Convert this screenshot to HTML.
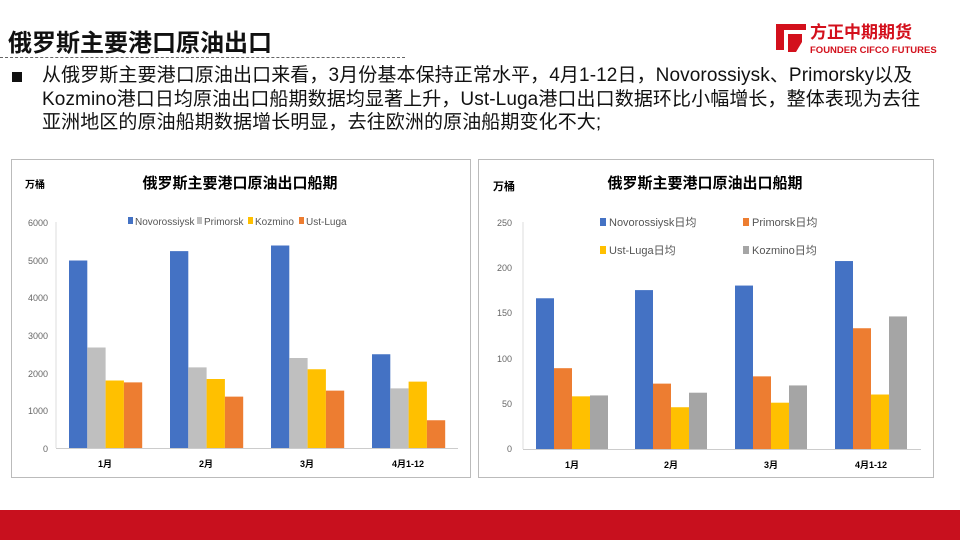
<!DOCTYPE html>
<html><head><meta charset="utf-8"><style>
body{margin:0;width:960px;height:540px;background:#fff;overflow:hidden;position:relative;font-family:"Liberation Sans","Noto Sans CJK SC",sans-serif}
.t{position:absolute;white-space:nowrap}
</style></head><body>
<div class="t" style="left:8px;top:23px;font-size:24px;font-weight:bold;color:#111">俄罗斯主要港口原油出口</div>
<div style="position:absolute;left:0;top:57px;width:405px;border-top:1px dashed #666"></div>
<svg style="position:absolute;left:770px;top:18px" width="180" height="40">
<path d="M6 6 H36 V12 H14 V32 H6 Z" fill="#d3101c"/><path d="M18 16 H32 V24 L26 34 H18 Z" fill="#d3101c"/>
<text x="40" y="20" font-size="17" font-weight="bold" fill="#d3101c" font-family="Liberation Sans,Noto Sans CJK SC,sans-serif">方正中期期货</text>
<text x="40" y="35" font-size="9.5" font-weight="bold" fill="#d3101c" font-family="Liberation Sans,sans-serif">FOUNDER CIFCO FUTURES</text>
</svg>
<div style="position:absolute;left:12px;top:72px;width:10px;height:10px;background:#111"></div>
<div class="t" style="left:42px;top:64px;font-size:19px;line-height:23.5px;color:#111;letter-spacing:0.1px">从俄罗斯主要港口原油出口来看，3月份基本保持正常水平，4月1-12日，Novorossiysk、Primorsky以及<br>Kozmino港口日均原油出口船期数据均显著上升，Ust-Luga港口出口数据环比小幅增长，整体表现为去往<br>亚洲地区的原油船期数据增长明显，去往欧洲的原油船期变化不大;</div>
<svg style="position:absolute;left:0;top:0" width="960" height="540" font-family="Liberation Sans,Noto Sans CJK SC,sans-serif">
<rect x="11.5" y="159.5" width="459" height="318" fill="none" stroke="#bbb"/>
<rect x="478.5" y="159.5" width="455" height="318" fill="none" stroke="#bbb"/>
<text x="25" y="188" font-size="10" font-weight="bold">万桶</text>
<text x="240" y="188" font-size="15" font-weight="bold" text-anchor="middle">俄罗斯主要港口原油出口船期</text>
<text x="493" y="190" font-size="11" font-weight="bold">万桶</text>
<text x="705" y="188" font-size="15" font-weight="bold" text-anchor="middle">俄罗斯主要港口原油出口船期</text>
<g font-size="9" fill="#666" text-anchor="end">
<text x="48" y="226">6000</text><text x="48" y="264">5000</text><text x="48" y="301">4000</text><text x="48" y="339">3000</text><text x="48" y="377">2000</text><text x="48" y="414">1000</text><text x="48" y="452">0</text>
<text x="512" y="226">250</text><text x="512" y="271">200</text><text x="512" y="316">150</text><text x="512" y="362">100</text><text x="512" y="407">50</text><text x="512" y="452">0</text>
</g>
<line x1="56" y1="222" x2="56" y2="448" stroke="#ddd"/><line x1="56" y1="448.5" x2="458" y2="448.5" stroke="#ccc"/>
<line x1="523" y1="222" x2="523" y2="449" stroke="#ddd"/><line x1="523" y1="449.5" x2="921" y2="449.5" stroke="#ccc"/>
<g id="L"></g><g id="R"></g>
<g font-size="9" font-weight="bold" text-anchor="middle">
<text x="105" y="467">1月</text><text x="206" y="467">2月</text><text x="307" y="467">3月</text><text x="408" y="467">4月1-12</text>
<text x="572" y="468">1月</text><text x="671" y="468">2月</text><text x="771" y="468">3月</text><text x="871" y="468">4月1-12</text>
</g>
<g font-size="10" fill="#555">
<rect x="128" y="217" width="5" height="7" fill="#4472C4"/><text x="135" y="225">Novorossiysk</text>
<rect x="197" y="217" width="5" height="7" fill="#BFBFBF"/><text x="204" y="225">Primorsk</text>
<rect x="248" y="217" width="5" height="7" fill="#FFC000"/><text x="255" y="225">Kozmino</text>
<rect x="299" y="217" width="5" height="7" fill="#ED7D31"/><text x="306" y="225">Ust-Luga</text>
</g>
<g font-size="11" fill="#555">
<rect x="600" y="218" width="6" height="8" fill="#4472C4"/><text x="609" y="226">Novorossiysk日均</text>
<rect x="743" y="218" width="6" height="8" fill="#ED7D31"/><text x="752" y="226">Primorsk日均</text>
<rect x="600" y="246" width="6" height="8" fill="#FFC000"/><text x="609" y="254">Ust-Luga日均</text>
<rect x="743" y="246" width="6" height="8" fill="#A5A5A5"/><text x="752" y="254">Kozmino日均</text>
</g>
</svg>
<div style="position:absolute;left:0;top:510px;width:960px;height:30px;background:#c8101e"></div>
<script>
function bars(id,x0s,vals,cols,y0,scale,w){var g=document.getElementById(id),s='';
x0s.forEach(function(x0,i){vals[i].forEach(function(v,j){var h=v*scale;s+='<rect x="'+(x0+j*w)+'" y="'+(y0-h)+'" width="'+w+'" height="'+h+'" fill="'+cols[j]+'"/>';});});g.innerHTML=s;}
bars('L',[69,170,271,372],[[5000,2680,1800,1750],[5250,2150,1840,1370],[5400,2400,2100,1530],[2500,1590,1770,740]],['#4472C4','#BFBFBF','#FFC000','#ED7D31'],448,225/6000,18.3);
bars('R',[536,635,735,835],[[166,89,58,59],[175,72,46,62],[180,80,51,70],[207,133,60,146]],['#4472C4','#ED7D31','#FFC000','#A5A5A5'],449,227/250,18);
</script>
</body></html>
